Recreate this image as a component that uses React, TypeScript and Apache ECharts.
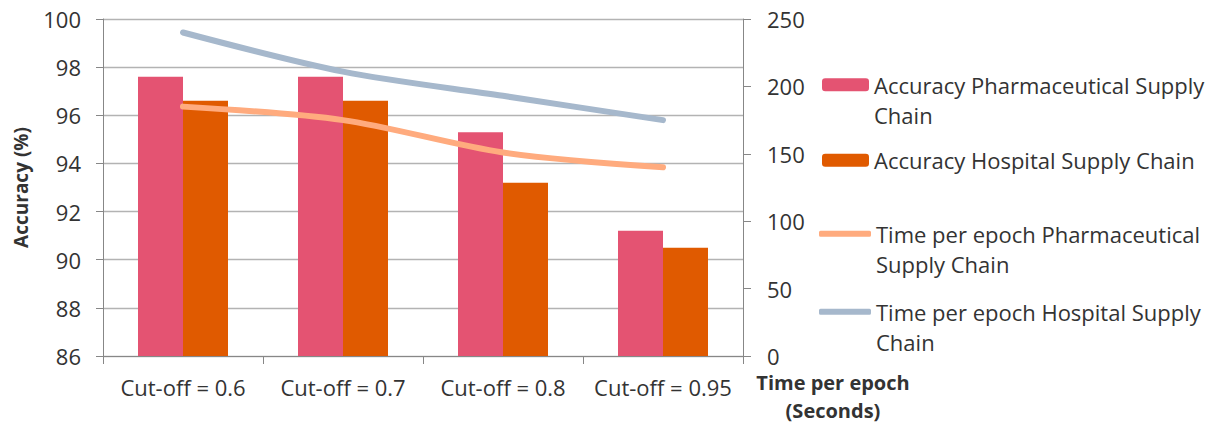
import React, { useEffect, useRef } from "react";
import * as echarts from "echarts";

// Category labels (x axis)
const categories = ["Cut-off = 0.6", "Cut-off = 0.7", "Cut-off = 0.8", "Cut-off = 0.95"];

// Accuracy (%) — left axis, bars
const accuracyPharma = [97.6, 97.6, 95.3, 91.2];
const accuracyHospital = [96.6, 96.6, 93.2, 90.5];

// Time per epoch (seconds) — right axis, lines
const timePharma = [185, 175, 151, 140];
const timeHospital = [240, 211, 193, 175];

// Series names and their wrapped legend text
const seriesNames = [
  "Accuracy Pharmaceutical Supply Chain",
  "Accuracy Hospital Supply Chain",
  "Time per epoch Pharmaceutical Supply Chain",
  "Time per epoch Hospital Supply Chain",
];
const legendText: Record<string, string> = {
  [seriesNames[0]]: "Accuracy Pharmaceutical Supply\nChain",
  [seriesNames[1]]: "Accuracy Hospital Supply Chain",
  [seriesNames[2]]: "Time per epoch Pharmaceutical\nSupply Chain",
  [seriesNames[3]]: "Time per epoch Hospital Supply\nChain",
};

const colors = ["#E45372", "#E05A00", "#FFAB7E", "#A6B8CC"];

const FONT = "'Open Sans', 'Noto Sans', sans-serif";
const TEXT = "#333333";
const AXIS = "#878787";
const GRID = "#B3B3B3";
const LINE_H = 30.5;

export default function App() {
  const ref = useRef<HTMLDivElement>(null);

  useEffect(() => {
    if (!ref.current) return;
    const chart = echarts.init(ref.current, null, { renderer: "svg" });

    // One legend per entry so each can sit at its own height; wrapped
    // entries get a blank leading line so the icon lines up with line one.
    const legendTops = [39, 145, 188, 266];
    const legends = seriesNames.map((name, i) => {
      const isLine = i >= 2;
      return {
        data: [isLine ? { name, icon: "roundRect" } : { name }],
        left: isLine ? 819 : 822,
        top: legendTops[i],
        orient: "vertical",
        padding: 0,
        itemGap: 0,
        itemWidth: isLine ? 52 : 47,
        itemHeight: isLine ? 6 : 13,
        selectedMode: false,
        formatter: (n: string) => {
          const t = legendText[n];
          return t.includes("\n") ? " \n" + t : t;
        },
        textStyle: {
          fontFamily: FONT,
          fontSize: 22,
          color: TEXT,
          lineHeight: LINE_H,
        },
      };
    });

    chart.setOption({
      animation: false,
      textStyle: { fontFamily: FONT },
      grid: { left: 103, right: 472, top: 19, bottom: 72, outerBoundsMode: "none", containLabel: false },
      legend: legends,
      xAxis: {
        type: "category",
        data: categories,
        boundaryGap: true,
        axisLine: { lineStyle: { color: AXIS, width: 1 } },
        axisTick: { show: true, length: 8, lineStyle: { color: AXIS } },
        axisLabel: { color: TEXT, fontSize: 22, fontFamily: FONT, margin: 20, interval: 0 },
      },
      yAxis: [
        {
          type: "value",
          min: 86,
          max: 100,
          interval: 2,
          name: "Accuracy (%)",
          nameLocation: "middle",
          nameGap: 73,
          nameRotate: 90,
          nameTextStyle: { fontFamily: FONT, fontSize: 19, fontWeight: "bold", color: TEXT },
          axisLine: { show: true, lineStyle: { color: AXIS } },
          axisTick: { show: true, length: 7, lineStyle: { color: AXIS } },
          axisLabel: { color: TEXT, fontSize: 22, fontFamily: FONT, margin: 22 },
          splitLine: { show: true, lineStyle: { color: GRID, width: 1.3 } },
        },
        {
          type: "value",
          position: "right",
          min: 0,
          max: 250,
          interval: 50,
          name: "Time per epoch\n(Seconds)",
          nameLocation: "start",
          nameGap: 12,
          nameMoveOverlap: false,
          nameTextStyle: {
            fontFamily: FONT,
            fontSize: 20,
            fontWeight: "bold",
            color: TEXT,
            lineHeight: 28,
            align: "center",
            padding: [0, 0, 0, 180],
          },
          axisLine: { show: true, lineStyle: { color: AXIS } },
          axisTick: { show: true, length: 8, lineStyle: { color: AXIS } },
          axisLabel: { color: TEXT, fontSize: 22, fontFamily: FONT, margin: 24 },
          splitLine: { show: false },
        },
      ],
      series: [
        {
          name: seriesNames[0],
          type: "bar",
          data: accuracyPharma,
          barWidth: 45,
          barGap: "0%",
          itemStyle: { color: colors[0] },
        },
        {
          name: seriesNames[1],
          type: "bar",
          data: accuracyHospital,
          barWidth: 45,
          barGap: "0%",
          itemStyle: { color: colors[1] },
        },
        {
          name: seriesNames[2],
          type: "line",
          yAxisIndex: 1,
          data: timePharma,
          smooth: 0.3,
          symbol: "none",
          showSymbol: false,
          z: 5,
          itemStyle: { color: colors[2] },
          lineStyle: { color: colors[2], width: 6, cap: "round" },
        },
        {
          name: seriesNames[3],
          type: "line",
          yAxisIndex: 1,
          data: timeHospital,
          smooth: 0.3,
          symbol: "none",
          showSymbol: false,
          z: 5,
          itemStyle: { color: colors[3] },
          lineStyle: { color: colors[3], width: 6, cap: "round" },
        },
      ],
    });

    return () => chart.dispose();
  }, []);

  return (
    <div
      ref={ref}
      style={{ position: "absolute", left: 0, top: 0, width: 1215, height: 428, background: "#fff" }}
    />
  );
}
